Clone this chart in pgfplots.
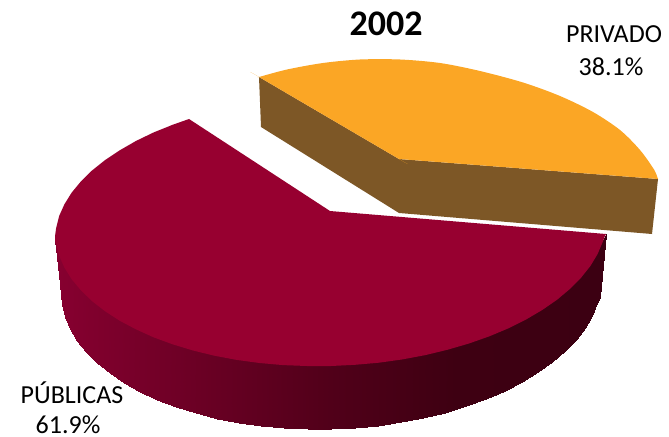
\documentclass[border=0pt]{standalone}
\usepackage{fontspec}
\setmainfont{Carlito}
\usepackage{pgfplots}
\pgfplotsset{compat=1.18}
\definecolor{crimson}{RGB}{151,0,48}
\definecolor{amber}{RGB}{251,166,37}
\definecolor{umber}{RGB}{125,87,38}
\begin{document}
\begin{tikzpicture}
\begin{axis}[
    scale only axis,
    width=669bp, height=437bp,
    xmin=0, xmax=669, ymin=0, ymax=437,
    y dir=reverse,
    hide axis,
    clip=false,
    colormap={rim}{rgb255(0cm)=(135,0,48); rgb255(28cm)=(80,0,25); rgb255(40cm)=(62,0,18); rgb255(55cm)=(60,0,18)},
]
\useasboundingbox (axis cs:0,0) rectangle (axis cs:669,437);
% PUBLICAS rim, top edge (tucked under the face) then bottom edge
\addplot[surf, shader=interp, mesh/cols=37, mesh/rows=2, point meta=x] table {
x y
55 240
56.1 243.4
59.1 253
64.4 264
71.6 276
81 287
92 298
105 308
119.6 318
135.9 326
153.5 334
172.6 341
193 347
214.3 352
236.6 357
259.5 360
283 362
307 363
331 363
355 362
379 360
402.5 356
425.4 352
447.7 347
469 340
489.4 333
508.5 325
526.1 316
542.4 307
557 297
570 286
581 275
590.4 263
597.6 251
602.8 240
605 236
606 234
61 292
62 304.5
65 316.9
70.2 329.1
77.2 340.8
86.4 352.2
97.2 363.1
109.9 373.4
124.2 383
140.1 391.7
157.4 399.8
176 406.9
196 413.2
216.8 418.5
238.7 422.7
261 425.9
284 428
307.5 429
331 429
354.5 427.8
378 425.6
401 422.3
423.3 417.9
445.2 412.5
466 406.2
486 398.9
504.6 390.8
521.9 381.9
537.8 372.2
552.1 362
564.8 350.9
575.6 339.6
584.7 327.6
591.8 315.5
597 303.1
599 299
600 297
};
% PUBLICAS top face
\addplot[fill=crimson, draw=none] coordinates {
(330,211) (189,119) (172.6,124.8) (153.5,132.5) (135.9,141) (119.6,150.4) (105,160.1) (92,170.5)
(81,181.3) (71.6,192.7) (64.4,204.3) (59.1,216.1) (56.1,228.1) (55.2,235) (55,240)
(56.1,243.4) (59.1,255.6) (64.4,267.6) (71.6,279.2) (81,290.4) (92,301.1) (105,311.2) (119.6,320.7)
(135.9,329.3) (153.5,337.3) (172.6,344.3) (193,350.5) (214.3,355.7) (236.6,359.9) (259.5,363)
(283,365.1) (307,366) (331,366) (355,364.8) (379,362.7) (402.5,359.4) (425.4,355.1) (447.7,349.7)
(469,343.5) (489.4,336.3) (508.5,328.3) (526.1,319.5) (542.4,309.9) (557,299.8) (570,288.9)
(581,277.8) (590.4,266) (597.6,254) (602.8,241.8) (605,236) (606,234)
} --cycle;
% PRIVADO walls
\addplot[fill=umber, draw=none] coordinates {(259,77) (261,127) (399,213) (399,159)} --cycle;
\addplot[fill=umber, draw=none] coordinates {(399,159) (399,213) (652,234) (658,179)} --cycle;
% PRIVADO top face, corner points repeated to stay sharp under smooth
\addplot[fill=amber, draw=none, smooth] coordinates {
(399,159) (399,159) (399,159) (259,77) (259,77) (259,77) (287,69.5) (323,63) (360,59.5) (400,59.5)
(440,63) (480,71) (523,82.5) (560,96) (593,112) (620,130) (640,150) (654,169.5)
(658,179) (658,179) (658,179)
} --cycle;
\node[font=\fontsize{36bp}{36bp}\selectfont\bfseries] at (axis cs:386,24) {2002};
\node[font=\fontsize{26bp}{26bp}\selectfont] at (axis cs:614,34) {PRIVADO};
\node[font=\fontsize{26bp}{26bp}\selectfont] at (axis cs:611,67) {38.1\%};
\node[font=\fontsize{26bp}{26bp}\selectfont] at (axis cs:72,393) {PÚBLICAS};
\node[font=\fontsize{26bp}{26bp}\selectfont] at (axis cs:68,425) {61.9\%};
\end{axis}
\end{tikzpicture}
\end{document}
